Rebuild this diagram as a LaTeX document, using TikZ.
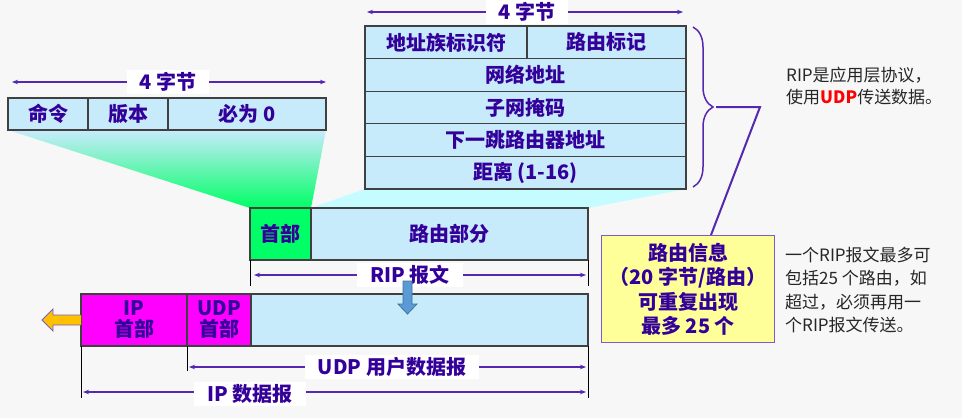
\documentclass[tikz,border=0pt]{standalone}
\usepackage{fontspec}
\setmainfont{Noto Sans CJK SC}
\usetikzlibrary{arrows.meta,decorations.pathreplacing,calc}
\definecolor{bgc}{HTML}{F7F7F7}
\definecolor{boxc}{HTML}{C8EBFC}
\definecolor{txtc}{HTML}{33009A}
\definecolor{arrc}{HTML}{5528B0}
\definecolor{grnc}{HTML}{00FF66}
\definecolor{magc}{HTML}{FF00FF}
\definecolor{yelc}{HTML}{FFFF99}
\definecolor{ybord}{HTML}{7B5CC8}
\definecolor{cyanc}{HTML}{C4FCFF}
\definecolor{edgec}{HTML}{404040}
\definecolor{barrow}{HTML}{5B9BD5}
\definecolor{barrowd}{HTML}{41719C}
\definecolor{yarrow}{HTML}{FFC000}
\begin{document}
\begin{tikzpicture}[x=1pt,y=-1pt,
  fbox/.style={draw=edgec,line width=1.3pt,fill=boxc,anchor=north west,inner sep=0pt,outer sep=0pt,text=txtc,align=center,font=\fontsize{20}{21}\selectfont\bfseries},
  dimline/.style={draw=arrc,line width=1.5pt,{Stealth[length=6pt,width=4.5pt]}-{Stealth[length=6pt,width=4.5pt]}},
  dimlabel/.style={fill=white,text=txtc,font=\fontsize{20}{21}\selectfont\bfseries,inner xsep=13pt,inner ysep=2pt},
  ticks/.style={draw=black,line width=0.8pt},
  note/.style={anchor=west,align=left,text=black!85,inner sep=0pt}
]
% background
\fill[bgc] (0,0) rectangle (962,418);
\useasboundingbox (0,0) rectangle (962,418);

% projections
\shade[top color=boxc, middle color=cyanc!70!grnc!30, bottom color=grnc] (8,130) -- (326,130) -- (311,208) -- (250,208) -- cycle;
\fill[cyanc] (365,189) -- (686,189) -- (588,208) -- (311,208) -- cycle;

% RIP header fields
\node[fbox,minimum width=80pt,minimum height=32pt] (cmd) at (8,98) {命令};
\node[fbox,minimum width=80pt,minimum height=32pt] (ver) at (88,98) {版本};
\node[fbox,minimum width=158pt,minimum height=32pt] (zero) at (168,98) {必为 0};

% route entry fields
\node[fbox,minimum width=162pt,minimum height=32.6pt] (afi) at (365,26) {地址族标识符};
\node[fbox,minimum width=159pt,minimum height=32.6pt] (tag) at (527,26) {路由标记};
\node[fbox,minimum width=321pt,minimum height=32.6pt] (net) at (365,58.6) {网络地址};
\node[fbox,minimum width=321pt,minimum height=32.6pt] (mask) at (365,91.2) {子网掩码};
\node[fbox,minimum width=321pt,minimum height=32.6pt] (nexthop) at (365,123.8) {下一跳路由器地址};
\node[fbox,minimum width=321pt,minimum height=32.6pt] (dist) at (365,156.4) {距离 (1-16)};

% RIP message
\node[fbox,fill=grnc,minimum width=61pt,minimum height=52pt] (hdr) at (250,208) {首部};
\node[fbox,minimum width=277pt,minimum height=52pt] (route) at (311,208) {路由部分};

% IP datagram
\node[fbox,fill=magc,minimum width=106pt,minimum height=52pt] (iphdr) at (81,294) {IP\\首部};
\node[fbox,fill=magc,minimum width=64pt,minimum height=52pt] (udphdr) at (187,294) {UDP\\首部};
\node[fbox,minimum width=337pt,minimum height=52pt] (data) at (251,294) {};

% dimension lines
\coordinate (d1a) at (12,82); \coordinate (d1b) at (326,82);
\draw[dimline] (d1a) -- (d1b);
\node[dimlabel] (d1l) at (168,82) {4 字节};
\coordinate (d2a) at (367,12); \coordinate (d2b) at (683,12);
\draw[dimline] (d2a) -- (d2b);
\node[dimlabel] (d2l) at (527,12) {4 字节};

\draw[ticks] (hdr.south west) -- ++(0,26);
\draw[ticks] (route.south east) -- ++(0,26);
\coordinate (d3a) at (254,275); \coordinate (d3b) at (586,275);
\draw[dimline] (d3a) -- (d3b);
\node[dimlabel] (d3l) at (410,275) {RIP 报文};

\draw[ticks] (iphdr.south west) -- ++(0,52);
\draw[ticks] (udphdr.south west) -- ++(0,25);
\draw[ticks] (data.south east) -- ++(0,52);
\coordinate (d4a) at (189,367); \coordinate (d4b) at (586,367);
\draw[dimline] (d4a) -- (d4b);
\node[dimlabel] (d4l) at (392,367) {UDP 用户数据报};
\coordinate (d5a) at (83,392); \coordinate (d5b) at (586,392);
\draw[dimline] (d5a) -- (d5b);
\node[dimlabel] (d5l) at (250,394) {IP 数据报};

% blue down arrow
\filldraw[fill=barrow,draw=barrowd,line width=0.8pt] (403,281) -- (412,281) -- (412,304) -- (417,304) -- (407.5,314) -- (398,304) -- (403,304) -- cycle;
% yellow left arrow
\filldraw[fill=yarrow,draw=ybord,line width=0.8pt] (iphdr.west |- 0,315) -- (53,315) -- (53,309) -- (42,320) -- (53,331) -- (53,325) -- (iphdr.west |- 0,325);

% brace and leader
\draw[arrc,line width=1.5pt,decorate,decoration={brace,amplitude=20pt}] (693,27) -- (693,187);
\node[draw=ybord,line width=1.2pt,fill=yelc,minimum width=173pt,minimum height=107pt,anchor=north west,inner sep=0pt,align=center,text=txtc,font=\fontsize{20}{24.5}\selectfont\bfseries] (info) at (601,235) {路由信息\\（20 字节/路由）\\可重复出现\\最多 25 个};
\coordinate (bt) at (716,107);
\coordinate (bk) at (760,107);
\draw[arrc,line width=2pt] (bt) -- (bk) -- ($(info.north west)+(110,0)$);

% notes
\node[note,font=\fontsize{17}{22}\selectfont] (n1) at (786,86) {RIP是应用层协议，\\使用{\color{red}\bfseries UDP}传送数据。};
\node[note,font=\fontsize{17}{23.3}\selectfont] (n2) at (785,290) {一个RIP报文最多可\\包括25 个路由，如\\超过，必须再用一\\个RIP报文传送。};
\end{tikzpicture}
\end{document}
